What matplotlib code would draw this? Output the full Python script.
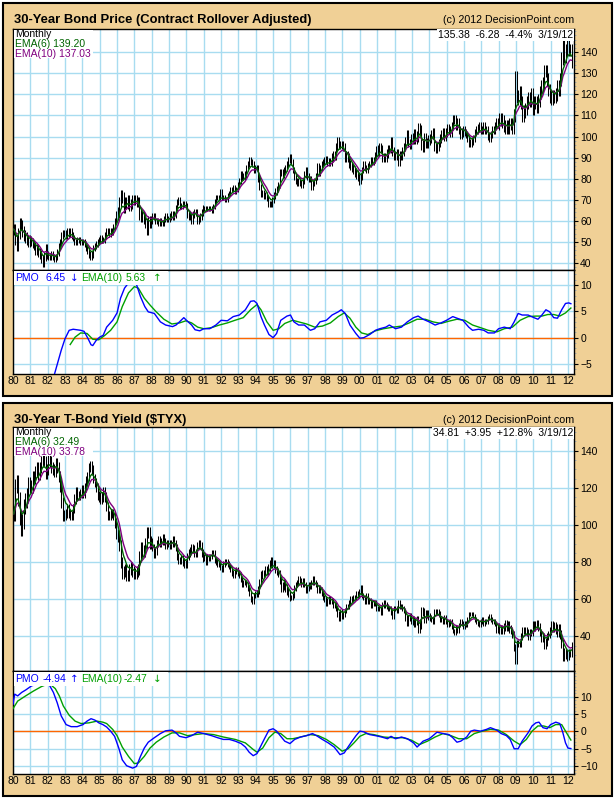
import numpy as np
import pandas as pd
import matplotlib
matplotlib.use("Agg")
import matplotlib.pyplot as plt
from matplotlib.patches import Rectangle
from matplotlib.ticker import MultipleLocator

plt.rcParams["font.family"] = ["Liberation Sans", "DejaVu Sans"]

W, H = 615, 801
TAN = "#F0D096"
GRID = "#A8DCF0"

# ------------------------------------------------------------
# Monthly closes, Jan 1980 .. Mar 2012
# ------------------------------------------------------------
bond_close = [
    56, 51, 48, 54, 59, 58, 55, 53, 52, 51, 50, 51,          # 1980
    50, 49, 48, 46, 47, 45, 44, 42, 40, 43, 47, 44,          # 1981
    43, 43, 44, 43, 42, 43, 45, 48, 50, 53, 54, 54,          # 1982
    53, 55, 54, 55, 53, 52, 50, 50, 51, 51, 50, 50,          # 1983
    50, 49, 47, 46, 44, 43, 44, 47, 48, 49, 50, 51,          # 1984
    52, 51, 51, 53, 55, 55, 54, 55, 55, 57, 60, 63,          # 1985
    64, 69, 72, 71, 66, 69, 68, 70, 67, 68, 70, 70,          # 1986
    70, 69, 69, 63, 62, 62, 61, 59, 56, 60, 59, 60,          # 1987
    62, 62, 60, 60, 59, 60, 59, 59, 61, 62, 61, 61,          # 1988
    62, 63, 62, 63, 66, 69, 70, 67, 67, 68, 68, 67,          # 1989
    63, 62, 62, 60, 63, 64, 64, 60, 61, 62, 64, 66,          # 1990
    66, 66, 66, 66, 66, 65, 67, 69, 71, 71, 71, 74,          # 1991
    71, 71, 70, 70, 72, 73, 75, 75, 76, 74, 75, 77,          # 1992
    79, 82, 81, 81, 82, 85, 87, 89, 88, 87, 84, 85,          # 1993
    85, 80, 76, 73, 73, 72, 72, 71, 68, 68, 68, 70,          # 1994
    72, 74, 75, 77, 83, 83, 82, 84, 85, 87, 89, 90,          # 1995
    88, 84, 81, 79, 78, 79, 78, 77, 79, 82, 84, 81,          # 1996
    80, 80, 76, 78, 79, 81, 86, 83, 85, 87, 88, 89,          # 1997
    89, 88, 88, 88, 90, 91, 91, 95, 98, 96, 96, 96,          # 1998
    95, 90, 91, 90, 87, 86, 85, 84, 83, 82, 81, 79,          # 1999
    81, 84, 87, 85, 84, 86, 87, 89, 88, 89, 91, 94,          # 2000
    93, 95, 94, 90, 90, 90, 92, 94, 94, 98, 93, 91,          # 2001
    91, 92, 88, 91, 91, 93, 95, 98, 101, 97, 96, 99,         # 2002
    99, 101, 99, 100, 104, 103, 96, 95, 99, 97, 97, 98,      # 2003
    99, 101, 102, 95, 94, 95, 97, 99, 101, 102, 100, 102,    # 2004
    104, 103, 102, 105, 108, 108, 105, 107, 103, 101, 102, 103,  # 2005
    102, 101, 99, 97, 97, 98, 99, 102, 103, 104, 105, 103,   # 2006
    103, 105, 103, 103, 100, 99, 101, 103, 103, 105, 107, 106,   # 2007
    108, 108, 107, 105, 104, 105, 104, 106, 106, 104, 110, 128,  # 2008
    119, 118, 121, 116, 110, 112, 113, 116, 118, 117, 120, 113,  # 2009
    116, 116, 114, 117, 121, 124, 125, 131, 131, 127, 122, 119,  # 2010
    118, 119, 119, 120, 124, 122, 127, 137, 143, 138, 141, 143,  # 2011
    141, 141, 135.38,                                        # 2012
]
bond_wick = [2.5, 2, 1.5, 1.5, 1.5, 1.5, 2.5, 2.5, 1.5, 1.5, 1.5, 1.2, 1.2,
             1.5, 1.5, 1.5, 1.5, 1.5, 2, 2, 1.5, 2, 2, 2.5, 2, 2, 1.8, 1.8,
             3, 3, 3, 3, 3]

tyx_close = [
    106, 121, 123, 114, 104, 98, 102, 110, 113, 116, 122, 121,   # 1980
    120, 126, 125, 129, 131, 127, 131, 134, 135, 134, 128, 130,  # 1981
    135, 134, 131, 130, 129, 133, 131, 126, 121, 112, 105, 105,  # 1982
    106, 109, 106, 105, 105, 109, 114, 118, 116, 116, 117, 119,  # 1983
    117, 120, 124, 126, 131, 132, 130, 125, 123, 120, 116, 115,  # 1984
    114, 115, 118, 115, 110, 105, 105, 106, 106, 105, 101, 95,   # 1985
    94, 89, 80, 74, 75, 76, 73, 73, 76, 77, 75, 74,              # 1986
    74, 75, 76, 83, 88, 86, 86, 90, 96, 96, 90, 91,              # 1987
    88, 84, 86, 90, 92, 90, 91, 93, 91, 89, 90, 90,              # 1988
    89, 90, 92, 90, 88, 83, 81, 81, 82, 80, 79, 79,              # 1989
    83, 85, 86, 88, 87, 85, 85, 89, 90, 89, 85, 82,              # 1990
    83, 80, 83, 82, 83, 85, 85, 81, 80, 79, 79, 77,              # 1991
    76, 79, 80, 80, 79, 78, 76, 74, 73, 75, 76, 74,              # 1992
    73, 71, 68, 69, 69, 68, 66, 63, 60, 59, 62, 63,              # 1993
    63, 65, 69, 73, 74, 74, 76, 75, 77, 79, 81, 79,              # 1994
    79, 76, 75, 74, 70, 66, 67, 69, 66, 64, 63, 61,              # 1995
    61, 62, 66, 68, 69, 71, 70, 68, 70, 68, 65, 66,              # 1996
    68, 67, 69, 71, 69, 68, 65, 66, 65, 63, 61, 60,              # 1997
    58, 59, 60, 59, 59, 57, 57, 55, 52, 50, 53, 51,              # 1998
    52, 54, 56, 56, 58, 60, 60, 61, 61, 63, 62, 64,              # 1999
    66, 62, 61, 59, 62, 59, 59, 57, 58, 58, 58, 55,              # 2000
    55, 55, 53, 57, 58, 57, 56, 55, 55, 53, 51, 55,              # 2001
    55, 54, 58, 56, 56, 55, 54, 50, 47, 50, 51, 48,              # 2002
    49, 47, 48, 49, 44, 46, 54, 53, 49, 52, 52, 51,              # 2003
    50, 49, 48, 53, 53, 53, 52, 49, 49, 48, 50, 48,              # 2004
    46, 47, 48, 45, 43, 42, 45, 43, 46, 48, 47, 45,              # 2005
    47, 46, 49, 52, 52, 52, 51, 49, 48, 47, 46, 48,              # 2006
    49, 47, 48, 48, 50, 51, 49, 48, 48, 47, 43, 45,              # 2007
    43, 44, 43, 45, 47, 45, 46, 44, 43, 41, 34, 27,              # 2008
    36, 36, 36, 40, 43, 43, 43, 42, 40, 42, 42, 46,              # 2009
    45, 46, 47, 45, 42, 39, 40, 35, 37, 40, 41, 43,              # 2010
    46, 45, 45, 44, 42, 44, 41, 36, 29, 31, 30, 29,              # 2011
    31, 31, 34.81,                                               # 2012
]
tyx_wick = [4, 3, 3, 2.5, 2.5, 2.5, 3, 3, 2, 2, 2, 1.5, 1.5, 1.5, 2, 2, 1.5,
            1.5, 1.5, 1.5, 1.5, 1.5, 1.5, 2, 1.5, 1.2, 1.2, 1.2, 2, 2, 2, 2.5, 2]

# ------------------------------------------------------------
# PMO and its EMA(10) signal (year, value)
# ------------------------------------------------------------
bond_pmo_t = [
    1982.30, 1982.78, 1983.00, 1983.24, 1983.47, 1983.90, 1984.10, 1984.33, 1984.50, 1984.60,
    1984.80, 1985.00, 1985.20, 1985.40, 1985.75, 1986.00, 1986.20, 1986.43, 1986.66, 1987.00,
    1987.10, 1987.35, 1987.60, 1987.80, 1988.15, 1988.50, 1988.80, 1989.20, 1989.40, 1989.60,
    1989.85, 1990.00, 1990.30, 1990.50, 1990.77, 1991.00, 1991.34, 1991.70, 1992.00, 1992.36,
    1992.70, 1993.05, 1993.40, 1993.70, 1993.90, 1994.07, 1994.30, 1994.50, 1994.76, 1995.00,
    1995.20, 1995.44, 1995.80, 1996.00, 1996.20, 1996.47, 1996.80, 1997.15, 1997.40, 1997.70,
    1998.07, 1998.40, 1998.75, 1998.93, 1999.16, 1999.43, 1999.77, 2000.00, 2000.23, 2000.57,
    2000.90, 2001.15, 2001.50, 2001.70, 2002.06, 2002.40, 2002.74, 2003.10, 2003.36, 2003.65,
    2004.00, 2004.34, 2004.68, 2005.00, 2005.36, 2005.60, 2005.94, 2006.28, 2006.50, 2006.85,
    2007.15, 2007.40, 2007.76, 2008.00, 2008.33, 2008.67, 2008.90, 2009.13, 2009.36, 2009.70,
    2010.04, 2010.27, 2010.50, 2010.73, 2010.95, 2011.18, 2011.40, 2011.64, 2011.86, 2012.05,
    2012.17,
]
bond_pmo = [
    -8.0, -2.4, -0.2, 1.4, 1.6, 1.4, 1.2, -0.2, -1.35, -1.5,
    -0.5, 0.1, 0.45, 2.0, 3.3, 4.7, 7.5, 9.4, 10.4, 10.6,
    10.3, 7.8, 5.9, 4.9, 4.6, 3.0, 2.4, 2.1, 2.4, 3.0,
    3.8, 3.3, 2.4, 1.5, 1.3, 1.7, 1.7, 2.4, 3.3, 3.2,
    4.0, 4.3, 5.3, 6.9, 7.0, 6.5, 4.0, 2.4, 0.6, 0.0,
    0.8, 3.3, 4.1, 4.3, 3.0, 2.4, 2.4, 1.4, 1.7, 3.0,
    3.3, 4.3, 4.9, 5.3, 4.6, 2.4, 0.8, -0.1, 0.0, 0.6,
    1.4, 1.7, 2.0, 2.4, 1.7, 2.0, 3.0, 3.8, 4.1, 3.5,
    3.0, 2.4, 2.8, 3.3, 4.0, 3.7, 3.3, 2.0, 1.4, 1.6,
    1.4, 0.9, 0.9, 1.7, 2.0, 1.7, 3.0, 4.6, 4.3, 4.3,
    3.8, 3.5, 4.3, 5.3, 4.9, 3.8, 3.7, 5.3, 6.5, 6.6,
    6.45,
]
bond_sig_t = [
    1983.30, 1983.58, 1983.90, 1984.27, 1984.60, 1984.95, 1985.30, 1985.63, 1986.00, 1986.30,
    1986.66, 1987.00, 1987.23, 1987.57, 1987.90, 1988.26, 1988.70, 1989.16, 1989.60, 1989.97,
    1990.30, 1990.65, 1991.00, 1991.45, 1991.90, 1992.36, 1992.80, 1993.28, 1993.70, 1994.07,
    1994.30, 1994.64, 1995.00, 1995.33, 1995.67, 1996.13, 1996.47, 1996.93, 1997.40, 1997.84,
    1998.30, 1998.75, 1999.10, 1999.43, 1999.77, 2000.10, 2000.46, 2000.90, 2001.37, 2001.94,
    2002.40, 2002.85, 2003.30, 2003.77, 2004.22, 2004.68, 2005.10, 2005.60, 2006.05, 2006.50,
    2006.96, 2007.40, 2007.90, 2008.33, 2008.80, 2009.24, 2009.70, 2010.15, 2010.50, 2010.84,
    2011.18, 2011.53, 2011.86, 2012.17,
]
bond_sig = [
    -1.3, 0.1, 0.9, 0.8, -0.3, -0.4, 0.45, 1.4, 3.0, 5.9,
    8.5, 9.7, 9.4, 7.5, 6.2, 4.9, 3.5, 2.6, 2.8, 3.2,
    2.8, 2.0, 1.7, 1.9, 2.4, 2.8, 3.3, 3.8, 5.3, 6.3,
    5.3, 3.0, 1.4, 1.7, 2.7, 3.3, 3.0, 2.6, 2.0, 2.2,
    2.8, 4.0, 4.7, 3.7, 2.0, 0.9, 0.6, 1.3, 1.7, 2.0,
    2.2, 2.8, 3.5, 3.5, 3.0, 2.7, 3.1, 3.5, 3.3, 2.4,
    1.9, 1.4, 1.1, 1.7, 2.0, 3.3, 4.0, 4.1, 4.1, 4.4,
    4.4, 4.1, 4.7, 5.63,
]

tyx_pmo_t = [
    1980.00, 1980.10, 1980.27, 1980.50, 1980.73, 1981.07, 1981.41, 1981.64, 1981.87, 1982.10,
    1982.33, 1982.55, 1982.78, 1983.06, 1983.35, 1983.70, 1984.04, 1984.27, 1984.50, 1984.72,
    1984.95, 1985.18, 1985.40, 1985.63, 1985.86, 1986.10, 1986.30, 1986.55, 1986.90, 1987.12,
    1987.35, 1987.57, 1987.80, 1988.15, 1988.50, 1988.80, 1989.17, 1989.40, 1989.60, 1989.97,
    1990.30, 1990.65, 1991.00, 1991.45, 1991.80, 1992.13, 1992.48, 1992.82, 1993.16, 1993.40,
    1993.62, 1993.85, 1994.07, 1994.30, 1994.53, 1994.76, 1995.00, 1995.20, 1995.44, 1995.67,
    1995.97, 1996.24, 1996.58, 1996.93, 1997.27, 1997.50, 1997.84, 1998.18, 1998.52, 1998.86,
    1999.10, 1999.32, 1999.55, 1999.78, 2000.00, 2000.23, 2000.57, 2000.90, 2001.26, 2001.60,
    2001.80, 2002.06, 2002.40, 2002.74, 2003.10, 2003.30, 2003.65, 2004.00, 2004.22, 2004.45,
    2004.80, 2005.14, 2005.36, 2005.60, 2005.82, 2006.16, 2006.40, 2006.60, 2006.96, 2007.30,
    2007.53, 2007.90, 2008.15, 2008.45, 2008.67, 2008.90, 2009.13, 2009.36, 2009.70, 2009.93,
    2010.15, 2010.33, 2010.56, 2010.80, 2011.00, 2011.30, 2011.53, 2011.70, 2011.86, 2012.00,
    2012.17,
]
tyx_pmo = [
    7.9, 10.8, 10.3, 11.3, 12.0, 13.2, 13.7, 14.4, 14.0, 13.4,
    11.3, 8.3, 4.5, 2.0, 1.4, 1.4, 2.0, 3.0, 3.7, 3.3,
    2.5, 2.0, 1.3, 0.1, -1.4, -4.8, -8.2, -9.9, -10.6, -10.1,
    -7.2, -4.8, -3.1, -1.8, -0.6, 0.2, 0.4, -0.4, -1.4, -1.8,
    -1.2, -0.2, -0.6, -1.2, -1.8, -2.3, -2.3, -2.8, -3.5, -4.5,
    -6.0, -7.0, -6.4, -4.1, -1.8, 0.4, 0.8, 0.1, -1.4, -2.8,
    -3.5, -2.3, -1.6, -1.2, -0.6, -1.2, -2.3, -3.3, -4.5, -6.7,
    -6.2, -4.5, -2.8, -1.2, 0.1, -0.1, -0.9, -1.2, -1.6, -2.1,
    -1.4, -2.1, -1.6, -2.1, -3.3, -4.5, -2.8, -2.1, -1.2, -0.2,
    -0.6, -0.9, -1.8, -3.1, -2.8, -1.6, 0.1, 0.4, 0.1, 0.6,
    1.1, 0.4, -0.6, -1.2, -2.3, -5.0, -5.0, -2.8, -0.4, 1.6,
    2.5, 2.7, 1.1, 0.8, 2.0, 2.7, 2.3, -0.2, -3.3, -4.8,
    -4.94,
]
tyx_sig_t = [
    1980.00, 1980.27, 1980.73, 1981.18, 1981.64, 1982.00, 1982.20, 1982.44, 1982.67, 1982.90,
    1983.24, 1983.58, 1983.92, 1984.38, 1984.84, 1985.18, 1985.40, 1985.75, 1986.00, 1986.30,
    1986.66, 1987.00, 1987.23, 1987.57, 1987.90, 1988.26, 1988.70, 1989.17, 1989.60, 1990.06,
    1990.50, 1991.00, 1991.57, 1992.13, 1992.82, 1993.40, 1993.85, 1994.07, 1994.40, 1994.76,
    1995.10, 1995.44, 1995.80, 1996.13, 1996.58, 1997.15, 1997.60, 1998.07, 1998.52, 1998.98,
    1999.32, 1999.66, 2000.00, 2000.35, 2000.80, 2001.37, 2001.94, 2002.50, 2002.97, 2003.43,
    2003.90, 2004.34, 2004.80, 2005.25, 2005.70, 2006.16, 2006.60, 2007.07, 2007.53, 2008.00,
    2008.45, 2008.90, 2009.24, 2009.60, 2009.93, 2010.27, 2010.60, 2010.95, 2011.30, 2011.64,
    2011.86, 2012.17,
]
tyx_sig = [
    6.6, 8.8, 10.3, 11.7, 13.0, 13.7, 13.4, 12.4, 10.3, 7.4,
    4.7, 3.0, 2.3, 2.5, 3.0, 2.7, 2.3, 0.6, -1.2, -4.5,
    -7.2, -9.3, -9.1, -7.2, -4.8, -3.1, -1.6, -0.4, -0.4, -1.2,
    -0.9, -0.6, -0.9, -1.6, -2.3, -3.3, -5.2, -6.0, -4.8, -1.8,
    -0.2, -0.6, -2.1, -2.1, -1.6, -0.9, -1.2, -2.3, -3.8, -5.7,
    -5.0, -3.3, -1.4, -0.6, -0.9, -1.6, -1.8, -1.8, -2.5, -3.8,
    -2.8, -1.6, -0.6, -1.2, -2.1, -2.1, -0.6, 0.1, 0.6, 0.4,
    -0.9, -2.8, -3.8, -2.3, 0.1, 1.6, 1.6, 1.1, 2.0, 2.0,
    0.1, -2.47,
]

years = list(range(1980, 2013))
year_labels = [f"{y % 100:02d}" for y in years]

# ------------------------------------------------------------
# Figure helpers (pixel layout)
# ------------------------------------------------------------
fig = plt.figure(figsize=(W / 100, H / 100), dpi=100)
fig.patch.set_facecolor("white")


def fx(x):
    return x / W


def fy(y):
    return 1 - y / H


def px_axes(x0, y0, x1, y1):
    return fig.add_axes([fx(x0), fy(y1), (x1 - x0) / W, (y1 - y0) / H])


def style_axes(ax, ylim, yticks, minor):
    ax.set_facecolor("white")
    ax.set_xlim(1980, 2012.35)
    ax.set_ylim(*ylim)
    ax.set_xticks(years)
    ax.set_yticks(yticks)
    ax.yaxis.set_minor_locator(MultipleLocator(minor))
    ax.yaxis.tick_right()
    ax.grid(True, which="major", color=GRID, lw=1.0)
    ax.set_axisbelow(True)
    ax.tick_params(axis="y", which="major", direction="out", length=3,
                   labelsize=7.5, pad=1.5, colors="black")
    ax.tick_params(axis="y", which="minor", direction="out", length=1.5,
                   color="#9ab")
    ax.tick_params(axis="x", length=0, labelbottom=False)
    for sp in ax.spines.values():
        sp.set_color("black")
        sp.set_linewidth(1.0)


def draw_panel(box, title, closes, wick, price_box, pmo_box, price_lim,
               price_ticks, price_minor, pmo_lim, pmo_ticks,
               pmo_t, pmo_v, sig_t, sig_v, ema_txt, last_txt, pmo_txt):
    bx0, by0, bx1, by1 = box
    fig.add_artist(Rectangle((fx(bx0), fy(by1)), (bx1 - bx0) / W, (by1 - by0) / H,
                             transform=fig.transFigure, fc=TAN, ec="black",
                             lw=1.5, zorder=-1))
    fig.text(fx(14), fy(by0 + 17), title, fontsize=9.4, fontweight="bold",
             ha="left", va="center")
    fig.text(fx(574), fy(by0 + 17), "(c) 2012 DecisionPoint.com", fontsize=7.7,
             ha="right", va="center")

    closes = np.asarray(closes, dtype=float)
    n = len(closes)
    t = 1980 + np.arange(n) / 12 + 1 / 24
    opens = np.r_[closes[0], closes[:-1]]
    w = np.repeat(wick, 12)[:n]
    hi = np.maximum(opens, closes) + w
    lo = np.minimum(opens, closes) - w
    s = pd.Series(closes)
    ema6 = s.ewm(span=6, adjust=False).mean()
    ema10 = s.ewm(span=10, adjust=False).mean()

    ax = px_axes(*price_box)
    style_axes(ax, price_lim, price_ticks, price_minor)
    ax.vlines(t, lo, hi, color="black", lw=0.75, zorder=2)
    ax.plot(t, ema10, color="#800080", lw=1.0, zorder=3)
    ax.plot(t, ema6, color="#006400", lw=1.0, zorder=4)

    x0, y0 = price_box[0], price_box[1]
    fig.patches.append(Rectangle((fx(x0 + 1), fy(y0 + 29)), 79 / W, 28 / H,
                                 transform=fig.transFigure, fc="white",
                                 ec="none", zorder=5))
    fig.text(fx(x0 + 2), fy(y0 + 5), "Monthly", fontsize=7.5, va="center",
             ha="left", zorder=6)
    fig.text(fx(x0 + 2), fy(y0 + 15), ema_txt[0], fontsize=7.5, va="center",
             ha="left", color="#006400", zorder=6)
    fig.text(fx(x0 + 2), fy(y0 + 25), ema_txt[1], fontsize=7.5, va="center",
             ha="left", color="#800080", zorder=6)
    ax.text(0.999, 0.997, last_txt, transform=ax.transAxes, fontsize=7.5,
            ha="right", va="top", zorder=6,
            bbox=dict(fc="white", ec="none", pad=0.6))

    ax2 = px_axes(*pmo_box)
    style_axes(ax2, pmo_lim, pmo_ticks, 1)
    ax2.tick_params(axis="x", labelbottom=True, labelsize=7.5, pad=1.5)
    ax2.set_xticklabels(year_labels)
    ax2.axhline(0, color="#FF6600", lw=1.0, zorder=2)
    ax2.plot(sig_t, sig_v, color="#00A000", lw=1.0, zorder=3)
    ax2.plot(pmo_t, pmo_v, color="#0000FF", lw=1.0, zorder=4)

    px0, py0 = pmo_box[0], pmo_box[1]
    fig.patches.append(Rectangle((fx(px0 + 1), fy(py0 + 15)), 154 / W, 14 / H,
                                 transform=fig.transFigure, fc="white",
                                 ec="none", zorder=5))
    yy = fy(py0 + 8)
    for x, txt, col, fam in pmo_txt:
        fig.text(fx(px0 + x), yy, txt, fontsize=7.5, va="center", ha="left",
                 color=col, zorder=6, family=fam)


draw_panel(
    (3, 3, 612, 396), "30-Year Bond Price (Contract Rollover Adjusted)",
    bond_close, bond_wick, (13, 29, 574, 270), (13, 270, 574, 374),
    (36.7, 151), list(range(40, 141, 10)), 2, (-6.9, 12.85), [-5, 0, 5, 10],
    bond_pmo_t, bond_pmo, bond_sig_t, bond_sig,
    ("EMA(6) 139.20", "EMA(10) 137.03"), "135.38  -6.28  -4.4%  3/19/12",
    [(2, "PMO", "#0000FF", "Liberation Sans"),
     (32, "6.45", "#0000FF", "Liberation Sans"),
     (57, "\u2193", "#0000FF", "DejaVu Sans"),
     (68, "EMA(10)", "#00A000", "Liberation Sans"),
     (113, "5.63", "#00A000", "Liberation Sans"),
     (140, "\u2191", "#00A000", "DejaVu Sans")],
)

draw_panel(
    (3, 403, 612, 796), "30-Year T-Bond Yield ($TYX)",
    tyx_close, tyx_wick, (13, 427, 574, 671), (13, 671, 574, 774),
    (21.3, 152.8), list(range(40, 141, 20)), 5, (-12.3, 17.5),
    [-10, -5, 0, 5, 10],
    tyx_pmo_t, tyx_pmo, tyx_sig_t, tyx_sig,
    ("EMA(6) 32.49", "EMA(10) 33.78"), "34.81  +3.95  +12.8%  3/19/12",
    [(2, "PMO", "#0000FF", "Liberation Sans"),
     (30, "-4.94", "#0000FF", "Liberation Sans"),
     (57, "\u2191", "#0000FF", "DejaVu Sans"),
     (68, "EMA(10)", "#00A000", "Liberation Sans"),
     (111, "-2.47", "#00A000", "Liberation Sans"),
     (140, "\u2193", "#00A000", "DejaVu Sans")],
)

fig.savefig("out.png", dpi=100, facecolor=fig.get_facecolor())
